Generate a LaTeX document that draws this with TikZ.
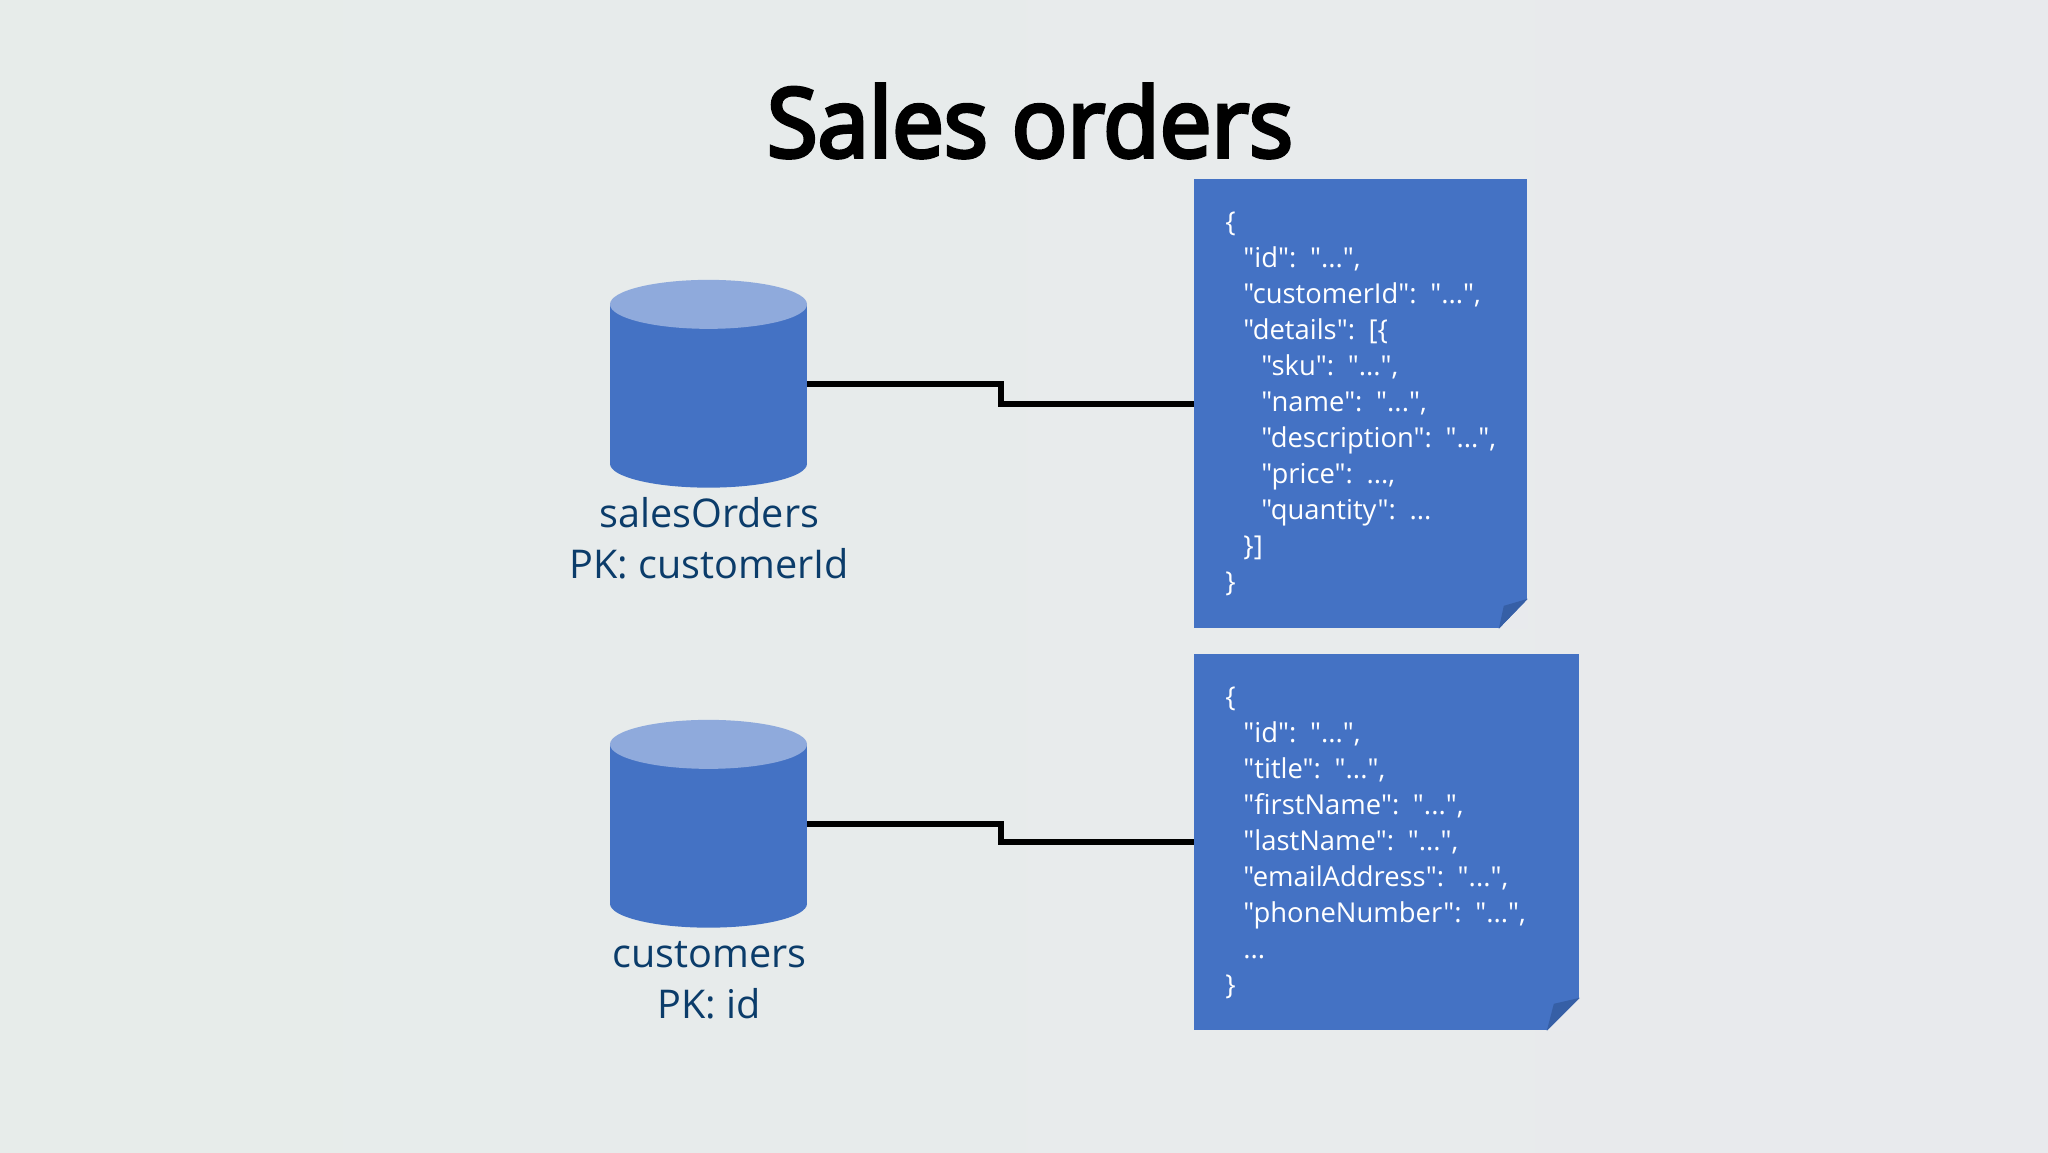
\documentclass[tikz,border=0pt]{standalone}
\usepackage{fontspec}
\newfontfamily\bodyfont{Open Sans}
\newfontfamily\titlefont[FakeStretch=0.96,FakeBold=4]{Open Sans}
\usetikzlibrary{positioning}
\definecolor{pageleft}{HTML}{E7ECEA}
\definecolor{pageright}{HTML}{E8EAED}
\definecolor{docblue}{HTML}{4472C4}
\definecolor{toplight}{HTML}{8FAADC}
\definecolor{foldblue}{HTML}{365FA6}
\definecolor{labelblue}{HTML}{0B3C6A}
\newcommand{\jsonind}{\hspace*{9pt}}
\tikzset{
    dbbody/.style={fill=docblue,inner sep=0pt,minimum width=98.5pt,minimum height=79.25pt},
    dbbottom/.style={fill=docblue},
    dbtop/.style={fill=toplight},
    dblabel/.style={align=center,text=labelblue,inner sep=0pt,xshift=0.4pt,
        font=\bodyfont\fontsize{19.8}{25.2}\selectfont},
    jsondoc/.style={fill=docblue,text=white,align=left,inner xsep=15.5pt,inner ysep=0pt,
        anchor=north west,font=\bodyfont\fontsize{13.7}{18}\selectfont},
    link/.style={draw=black,line width=3pt},
    foldcut/.style={fill=pageright},
    foldflap/.style={fill=foldblue}
}
\begin{document}
\begin{tikzpicture}[x=0.5pt,y=-0.5pt]
    \useasboundingbox (0,0) rectangle (2048,1152);
    \shade[left color=pageleft,right color=pageright] (0,0) rectangle (2048,1152);

    \node [anchor=base,font=\titlefont\fontsize{48}{58}\selectfont] (title) at (1030,157) {Sales orders};

    \node [dbbody] (salesDb) at (708.5,384) {};
    \fill[dbbottom] (salesDb.south) ellipse [x radius=49.25pt,y radius=12pt];
    \fill[dbtop] (salesDb.north) ellipse [x radius=49.25pt,y radius=12.25pt];
    \node [dblabel,below=16.8pt of salesDb] (salesLabel) {salesOrders\\PK: customerId};

    \node [dbbody] (custDb) at (708.5,824) {};
    \fill[dbbottom] (custDb.south) ellipse [x radius=49.25pt,y radius=12pt];
    \fill[dbtop] (custDb.north) ellipse [x radius=49.25pt,y radius=12.25pt];
    \node [dblabel,below=18.8pt of custDb] (custLabel) {customers\\PK: id};

    \node [jsondoc,text width=135.5pt,minimum height=224.5pt] (salesDoc) at (1194,179) {\{\\
        \jsonind"id": "...",\\
        \jsonind"customerId": "...",\\
        \jsonind"details": [\{\\
        \jsonind\jsonind"sku": "...",\\
        \jsonind\jsonind"name": "...",\\
        \jsonind\jsonind"description": "...",\\
        \jsonind\jsonind"price": ...,\\
        \jsonind\jsonind"quantity": ...\\
        \jsonind\}]\\
        \}};
    \node [jsondoc,text width=161.5pt,minimum height=188pt] (custDoc) at (1194,654) {\{\\
        \jsonind"id": "...",\\
        \jsonind"title": "...",\\
        \jsonind"firstName": "...",\\
        \jsonind"lastName": "...",\\
        \jsonind"emailAddress": "...",\\
        \jsonind"phoneNumber": "...",\\
        \jsonind...\\
        \}};

    \fill[foldcut] (salesDoc.south east) ++(-29,0) -- ++(29,-30) -- (salesDoc.south east) -- cycle;
    \fill[foldflap] (salesDoc.south east) ++(-29,0) -- ++(5,-23) -- ++(24,-7) -- cycle;
    \fill[foldcut] (custDoc.south east) ++(-33,0) -- ++(33,-33) -- (custDoc.south east) -- cycle;
    \fill[foldflap] (custDoc.south east) ++(-33,0) -- ++(7,-27) -- ++(26,-6) -- cycle;

    \coordinate (salesBend) at (1001,394);
    \coordinate (custBend) at (1001,833);
    \draw[link] (salesDb.east) -| (salesBend) |- (salesDoc.west);
    \draw[link] (custDb.east) -| (custBend) |- (custDoc.west);
\end{tikzpicture}
\end{document}
